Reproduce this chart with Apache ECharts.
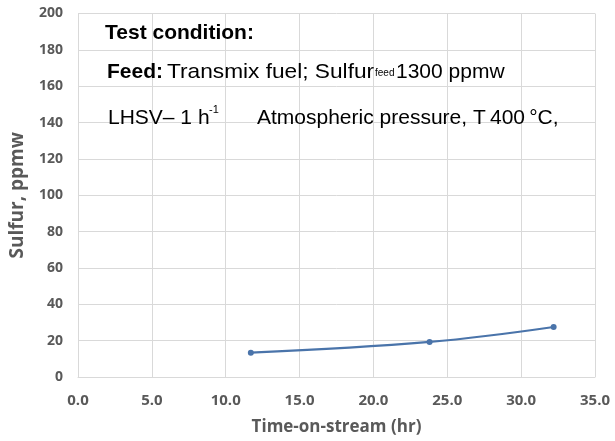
<!DOCTYPE html>
<html>
<head>
<meta charset="utf-8">
<script src="https://cdn.jsdelivr.net/npm/echarts@6/dist/echarts.min.js"></script>
<style>
  html, body { margin: 0; padding: 0; background: #fff; }
  #chart { width: 615px; height: 441px; }
</style>
</head>
<body>
<div id="chart"></div>
<script>
// Data
const timeHr = [11.7, 23.8, 32.2]
const sulfurPpmw = [13.4, 19.3, 27.5]
const xTicks = [0, 35, 5]   // min, max, interval
const yTicks = [0, 200, 20]

const axisColor = '#595959'
const gridColor = '#d9d9d9'
const noteFont = '"Liberation Sans", Arial, sans-serif'

const chart = echarts.init(document.getElementById('chart'))

// Text laid over the plot ("Test condition" notes), top-aligned
const note = (x, y, text, size, weight, sx) => ({
  type: 'text',
  x: x,
  y: y,
  scaleX: sx || 1,
  z: 10,
  style: {
    text: text,
    fill: '#000',
    font: (weight || 'normal') + ' ' + size + 'px ' + noteFont,
    verticalAlign: 'top'
  }
})

const option = {
  animation: false,
  backgroundColor: '#fff',
  grid: { left: 77, right: 20, top: 13.5, bottom: 62.5, containLabel: false },
  xAxis: {
    type: 'value',
    min: xTicks[0],
    max: xTicks[1],
    interval: xTicks[2],
    name: 'Time-on-stream (hr)',
    nameLocation: 'middle',
    nameGap: 42,
    nameTextStyle: { color: axisColor, fontFamily: 'Open Sans', fontWeight: 'bold', fontSize: 17 },
    axisLine: { show: true, lineStyle: { color: gridColor, width: 1 } },
    axisTick: { show: false },
    axisLabel: {
      color: axisColor, fontFamily: 'Open Sans', fontWeight: 'bold', fontSize: 15, margin: 16,
      formatter: (v) => v.toFixed(1)
    },
    splitLine: { show: true, lineStyle: { color: gridColor, width: 1 } }
  },
  yAxis: {
    type: 'value',
    min: yTicks[0],
    max: yTicks[1],
    interval: yTicks[2],
    name: 'Sulfur, ppmw',
    nameLocation: 'middle',
    nameGap: 51,
    nameTextStyle: { color: axisColor, fontFamily: 'Open Sans', fontWeight: 'bold', fontSize: 19 },
    axisLine: { show: false },
    axisTick: { show: false },
    axisLabel: { color: axisColor, fontFamily: 'Open Sans', fontWeight: 'bold', fontSize: 14, margin: 15 },
    splitLine: { show: true, lineStyle: { color: gridColor, width: 1 } }
  },
  series: [{
    type: 'line',
    data: timeHr.map((t, i) => [t, sulfurPpmw[i]]),
    smooth: 0.4,
    symbol: 'circle',
    symbolSize: 6,
    lineStyle: { color: '#4a74aa', width: 2.2 },
    itemStyle: { color: '#4a74aa' }
  }],
  graphic: [
    note(105, 23, 'Test condition:', 21, 'bold'),
    note(107, 62, 'Feed:', 21, 'bold'),
    note(167, 62, 'Transmix fuel; Sulfur', 21, 'normal', 1.08),
    note(375, 68, 'feed', 10),
    note(396, 62, '1300 ppmw', 21),
    note(108, 108, 'LHSV\u2013 1 h', 21),
    note(209, 104, '-1', 11),
    note(257, 108, 'Atmospheric pressure, T\u2009400\u2009\u00b0C,', 21)
  ]
}

chart.setOption(option)
</script>
</body>
</html>
